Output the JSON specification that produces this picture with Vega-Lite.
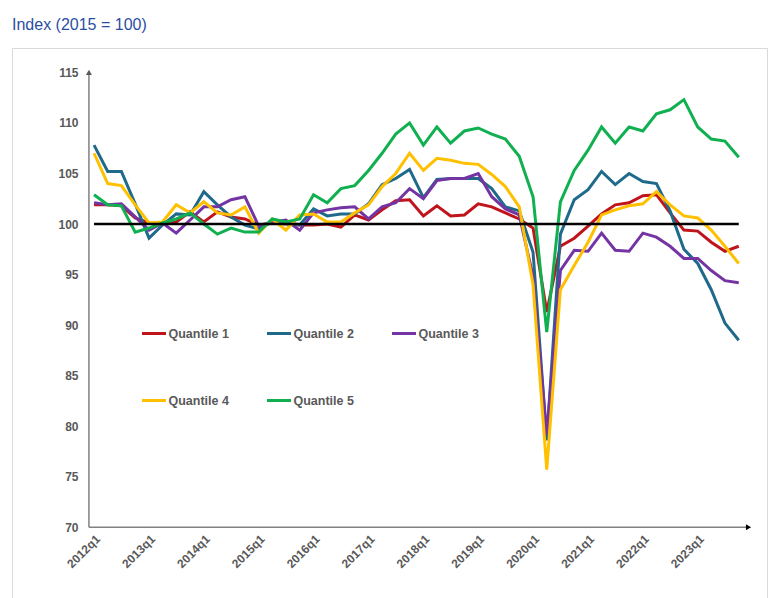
{
  "$schema": "https://vega.github.io/schema/vega-lite/v6.json",
  "width": 755,
  "height": 550,
  "autosize": {"type": "none"},
  "padding": {"left": 12, "top": 48, "right": 1, "bottom": 0},
  "title": {"text": "Index (2015 = 100)", "anchor": "start", "frame": "group", "font": "Liberation Sans", "fontSize": 16, "fontWeight": "normal", "color": "#2b4ea2", "baseline": "alphabetic", "offset": 2},
  "config": {
    "view": {"stroke": "#d9d9d9", "strokeWidth": 1},
    "font": "Liberation Sans",
    "axis": {"grid": false, "domain": false, "ticks": false, "tickSize": 0}
  },
  "data": {"values": [
    {"d": "2012-01-01", "Quantile 1": 101.9, "Quantile 2": 107.8, "Quantile 3": 102.1, "Quantile 4": 107.0, "Quantile 5": 102.9},
    {"d": "2012-04-01", "Quantile 1": 101.9, "Quantile 2": 105.2, "Quantile 3": 101.9, "Quantile 4": 104.0, "Quantile 5": 101.9},
    {"d": "2012-07-01", "Quantile 1": 101.8, "Quantile 2": 105.2, "Quantile 3": 102.0, "Quantile 4": 103.8, "Quantile 5": 101.8},
    {"d": "2012-10-01", "Quantile 1": 100.6, "Quantile 2": 102.0, "Quantile 3": 100.7, "Quantile 4": 101.9, "Quantile 5": 99.2},
    {"d": "2013-01-01", "Quantile 1": 100.1, "Quantile 2": 98.6, "Quantile 3": 99.4, "Quantile 4": 100.1, "Quantile 5": 99.6},
    {"d": "2013-04-01", "Quantile 1": 100.0, "Quantile 2": 99.9, "Quantile 3": 100.1, "Quantile 4": 100.2, "Quantile 5": 100.1},
    {"d": "2013-07-01", "Quantile 1": 100.2, "Quantile 2": 101.0, "Quantile 3": 99.1, "Quantile 4": 101.9, "Quantile 5": 100.5},
    {"d": "2013-10-01", "Quantile 1": 101.2, "Quantile 2": 100.9, "Quantile 3": 100.4, "Quantile 4": 101.1, "Quantile 5": 101.1},
    {"d": "2014-01-01", "Quantile 1": 100.2, "Quantile 2": 103.2, "Quantile 3": 101.7, "Quantile 4": 102.2, "Quantile 5": 100.0},
    {"d": "2014-04-01", "Quantile 1": 101.2, "Quantile 2": 101.9, "Quantile 3": 101.7, "Quantile 4": 101.1, "Quantile 5": 99.0},
    {"d": "2014-07-01", "Quantile 1": 100.7, "Quantile 2": 100.7, "Quantile 3": 102.4, "Quantile 4": 100.9, "Quantile 5": 99.6},
    {"d": "2014-10-01", "Quantile 1": 100.5, "Quantile 2": 99.9, "Quantile 3": 102.7, "Quantile 4": 101.7, "Quantile 5": 99.2},
    {"d": "2015-01-01", "Quantile 1": 99.9, "Quantile 2": 99.5, "Quantile 3": 99.8, "Quantile 4": 99.1, "Quantile 5": 99.2},
    {"d": "2015-04-01", "Quantile 1": 100.1, "Quantile 2": 100.2, "Quantile 3": 100.2, "Quantile 4": 100.5, "Quantile 5": 100.5},
    {"d": "2015-07-01", "Quantile 1": 100.0, "Quantile 2": 100.2, "Quantile 3": 100.4, "Quantile 4": 99.4, "Quantile 5": 100.2},
    {"d": "2015-10-01", "Quantile 1": 99.9, "Quantile 2": 99.9, "Quantile 3": 99.4, "Quantile 4": 100.9, "Quantile 5": 100.5},
    {"d": "2016-01-01", "Quantile 1": 99.9, "Quantile 2": 101.5, "Quantile 3": 101.1, "Quantile 4": 101.0, "Quantile 5": 102.9},
    {"d": "2016-04-01", "Quantile 1": 100.0, "Quantile 2": 100.8, "Quantile 3": 101.4, "Quantile 4": 100.2, "Quantile 5": 102.1},
    {"d": "2016-07-01", "Quantile 1": 99.7, "Quantile 2": 101.0, "Quantile 3": 101.6, "Quantile 4": 100.2, "Quantile 5": 103.5},
    {"d": "2016-10-01", "Quantile 1": 100.9, "Quantile 2": 101.0, "Quantile 3": 101.7, "Quantile 4": 101.1, "Quantile 5": 103.8},
    {"d": "2017-01-01", "Quantile 1": 100.4, "Quantile 2": 102.0, "Quantile 3": 100.5, "Quantile 4": 101.9, "Quantile 5": 105.3},
    {"d": "2017-04-01", "Quantile 1": 101.4, "Quantile 2": 103.9, "Quantile 3": 101.7, "Quantile 4": 103.7, "Quantile 5": 107.0},
    {"d": "2017-07-01", "Quantile 1": 102.3, "Quantile 2": 104.5, "Quantile 3": 102.1, "Quantile 4": 105.0, "Quantile 5": 108.9},
    {"d": "2017-10-01", "Quantile 1": 102.4, "Quantile 2": 105.4, "Quantile 3": 103.5, "Quantile 4": 107.0, "Quantile 5": 110.0},
    {"d": "2018-01-01", "Quantile 1": 100.8, "Quantile 2": 102.6, "Quantile 3": 102.5, "Quantile 4": 105.3, "Quantile 5": 107.8},
    {"d": "2018-04-01", "Quantile 1": 101.8, "Quantile 2": 104.4, "Quantile 3": 104.3, "Quantile 4": 106.5, "Quantile 5": 109.6},
    {"d": "2018-07-01", "Quantile 1": 100.8, "Quantile 2": 104.5, "Quantile 3": 104.5, "Quantile 4": 106.3, "Quantile 5": 108.0},
    {"d": "2018-10-01", "Quantile 1": 100.9, "Quantile 2": 104.5, "Quantile 3": 104.5, "Quantile 4": 106.0, "Quantile 5": 109.2},
    {"d": "2019-01-01", "Quantile 1": 102.0, "Quantile 2": 104.5, "Quantile 3": 105.0, "Quantile 4": 105.9, "Quantile 5": 109.5},
    {"d": "2019-04-01", "Quantile 1": 101.7, "Quantile 2": 103.5, "Quantile 3": 102.7, "Quantile 4": 104.9, "Quantile 5": 108.9},
    {"d": "2019-07-01", "Quantile 1": 101.1, "Quantile 2": 101.7, "Quantile 3": 101.5, "Quantile 4": 103.7, "Quantile 5": 108.4},
    {"d": "2019-10-01", "Quantile 1": 100.5, "Quantile 2": 101.3, "Quantile 3": 100.9, "Quantile 4": 101.7, "Quantile 5": 106.7},
    {"d": "2020-01-01", "Quantile 1": 99.6, "Quantile 2": 97.2, "Quantile 3": 94.8, "Quantile 4": 94.0, "Quantile 5": 102.7},
    {"d": "2020-04-01", "Quantile 1": 91.3, "Quantile 2": 78.6, "Quantile 3": 79.2, "Quantile 4": 75.7, "Quantile 5": 89.3},
    {"d": "2020-07-01", "Quantile 1": 97.8, "Quantile 2": 99.0, "Quantile 3": 95.4, "Quantile 4": 93.5, "Quantile 5": 102.2},
    {"d": "2020-10-01", "Quantile 1": 98.6, "Quantile 2": 102.4, "Quantile 3": 97.4, "Quantile 4": 95.9, "Quantile 5": 105.3},
    {"d": "2021-01-01", "Quantile 1": 99.8, "Quantile 2": 103.4, "Quantile 3": 97.3, "Quantile 4": 98.2, "Quantile 5": 107.3},
    {"d": "2021-04-01", "Quantile 1": 101.0, "Quantile 2": 105.2, "Quantile 3": 99.1, "Quantile 4": 100.9, "Quantile 5": 109.6},
    {"d": "2021-07-01", "Quantile 1": 101.9, "Quantile 2": 103.9, "Quantile 3": 97.4, "Quantile 4": 101.4, "Quantile 5": 108.0},
    {"d": "2021-10-01", "Quantile 1": 102.1, "Quantile 2": 105.0, "Quantile 3": 97.3, "Quantile 4": 101.8, "Quantile 5": 109.6},
    {"d": "2022-01-01", "Quantile 1": 102.8, "Quantile 2": 104.2, "Quantile 3": 99.1, "Quantile 4": 102.0, "Quantile 5": 109.2},
    {"d": "2022-04-01", "Quantile 1": 102.9, "Quantile 2": 104.0, "Quantile 3": 98.7, "Quantile 4": 103.2, "Quantile 5": 110.9},
    {"d": "2022-07-01", "Quantile 1": 101.1, "Quantile 2": 101.3, "Quantile 3": 97.8, "Quantile 4": 101.9, "Quantile 5": 111.3},
    {"d": "2022-10-01", "Quantile 1": 99.4, "Quantile 2": 97.5, "Quantile 3": 96.6, "Quantile 4": 100.8, "Quantile 5": 112.3},
    {"d": "2023-01-01", "Quantile 1": 99.3, "Quantile 2": 96.1, "Quantile 3": 96.6, "Quantile 4": 100.6, "Quantile 5": 109.6},
    {"d": "2023-04-01", "Quantile 1": 98.2, "Quantile 2": 93.5, "Quantile 3": 95.4, "Quantile 4": 99.4, "Quantile 5": 108.4},
    {"d": "2023-07-01", "Quantile 1": 97.3, "Quantile 2": 90.2, "Quantile 3": 94.4, "Quantile 4": 97.8, "Quantile 5": 108.2},
    {"d": "2023-10-01", "Quantile 1": 97.8, "Quantile 2": 88.5, "Quantile 3": 94.2, "Quantile 4": 96.1, "Quantile 5": 106.6}
  ]},
  "layer": [
    {
      "transform": [{"fold": ["Quantile 1", "Quantile 2", "Quantile 3", "Quantile 4", "Quantile 5"], "as": ["series", "value"]}],
      "mark": {"type": "line", "strokeWidth": 3},
      "encoding": {
        "x": {
          "field": "d", "type": "temporal", "title": null,
          "scale": {"type": "utc", "domain": [{"year": 2010, "month": 7, "date": 4, "utc": true}, {"year": 2024, "month": 4, "date": 6, "utc": true}]},
          "axis": {
            "orient": "bottom", "offset": -70, "labelAngle": -45, "labelPadding": 5,
            "values": [
              {"year": 2012, "month": 1, "date": 1, "utc": true}, {"year": 2013, "month": 1, "date": 1, "utc": true},
              {"year": 2014, "month": 1, "date": 1, "utc": true}, {"year": 2015, "month": 1, "date": 1, "utc": true},
              {"year": 2016, "month": 1, "date": 1, "utc": true}, {"year": 2017, "month": 1, "date": 1, "utc": true},
              {"year": 2018, "month": 1, "date": 1, "utc": true}, {"year": 2019, "month": 1, "date": 1, "utc": true},
              {"year": 2020, "month": 1, "date": 1, "utc": true}, {"year": 2021, "month": 1, "date": 1, "utc": true},
              {"year": 2022, "month": 1, "date": 1, "utc": true}, {"year": 2023, "month": 1, "date": 1, "utc": true}
            ],
            "labelExpr": "utcFormat(datum.value, '%Y') + 'q1'",
            "labelFont": "Liberation Sans Narrow, Liberation Sans", "labelFontWeight": "bold", "labelFontSize": 12, "labelColor": "#595959"
          }
        },
        "y": {
          "field": "value", "type": "quantitative", "title": null,
          "scale": {"domain": [63.01, 117.41], "nice": false, "zero": false},
          "axis": {
            "orient": "left", "offset": -77, "values": [70, 75, 80, 85, 90, 95, 100, 105, 110, 115],
            "labelPadding": 11, "labelFont": "Liberation Sans", "labelFontWeight": "bold", "labelFontSize": 12, "labelColor": "#595959"
          }
        },
        "color": {
          "field": "series", "type": "nominal",
          "scale": {"domain": ["Quantile 1", "Quantile 2", "Quantile 3", "Quantile 4", "Quantile 5"], "range": ["#c0141c", "#1f6a8a", "#7434a4", "#ffc000", "#10b050"]},
          "legend": {
            "title": null, "orient": "none", "legendX": 128.5, "legendY": 272, "columns": 3, "direction": "horizontal",
            "symbolType": "stroke", "symbolSize": 576, "symbolStrokeWidth": 3, "labelOffset": 1,
            "columnPadding": 31, "rowPadding": 47, "padding": 0,
            "labelFont": "Liberation Sans", "labelFontWeight": "bold", "labelFontSize": 12.5, "labelColor": "#595959"
          }
        }
      }
    },
    {
      "data": {"values": [{}]},
      "mark": {"type": "rule", "color": "#808080", "strokeWidth": 1.5},
      "encoding": {
        "x": {"datum": {"year": 2011, "month": 11, "date": 28, "utc": true}, "type": "temporal", "title": null},
        "y": {"datum": 70, "type": "quantitative", "title": null},
        "y2": {"datum": 115}
      }
    },
    {
      "data": {"values": [{}]},
      "mark": {"type": "rule", "color": "#808080", "strokeWidth": 1.5},
      "encoding": {
        "x": {"datum": {"year": 2011, "month": 11, "date": 28, "utc": true}, "type": "temporal", "title": null},
        "x2": {"datum": {"year": 2023, "month": 12, "date": 3, "utc": true}},
        "y": {"datum": 70, "type": "quantitative", "title": null}
      }
    },
    {
      "data": {"values": [{}]},
      "mark": {"type": "point", "shape": "triangle-up", "filled": true, "size": 35, "color": "#595959", "opacity": 1},
      "encoding": {
        "x": {"datum": {"year": 2011, "month": 11, "date": 28, "utc": true}, "type": "temporal", "title": null},
        "y": {"datum": 115, "type": "quantitative", "title": null}
      }
    },
    {
      "data": {"values": [{}]},
      "mark": {"type": "point", "shape": "triangle-right", "filled": true, "size": 35, "color": "#000000", "opacity": 1},
      "encoding": {
        "x": {"datum": {"year": 2023, "month": 12, "date": 5, "utc": true}, "type": "temporal", "title": null},
        "y": {"datum": 70, "type": "quantitative", "title": null}
      }
    },
    {
      "data": {"values": [{}]},
      "mark": {"type": "rule", "color": "#000000", "strokeWidth": 2.5},
      "encoding": {
        "x": {"datum": {"year": 2012, "month": 1, "date": 1, "utc": true}, "type": "temporal", "title": null},
        "x2": {"datum": {"year": 2023, "month": 10, "date": 1, "utc": true}},
        "y": {"datum": 100, "type": "quantitative", "title": null}
      }
    }
  ]
}
